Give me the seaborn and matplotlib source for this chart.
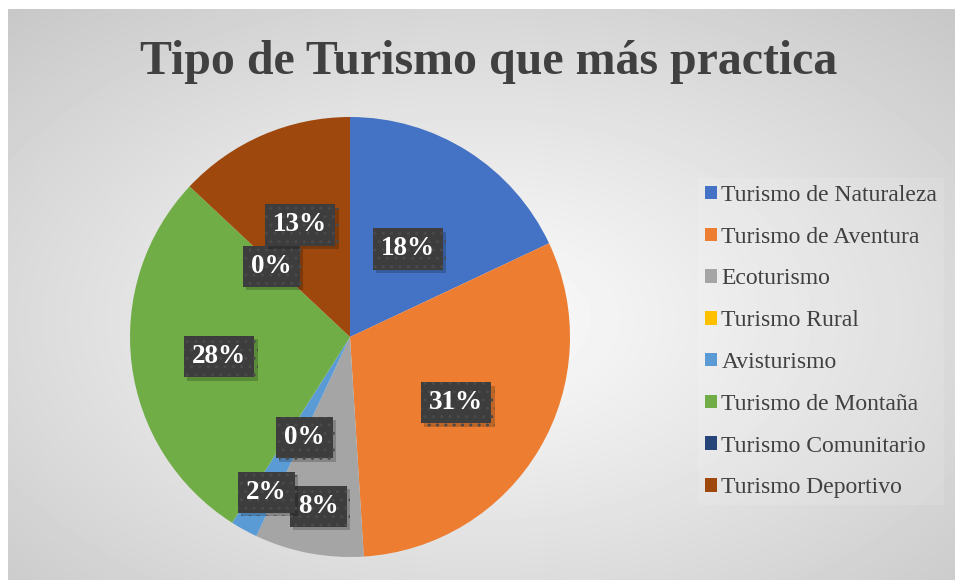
import numpy as np
import matplotlib
matplotlib.use("Agg")
import matplotlib.pyplot as plt
import matplotlib.patheffects as pe
import seaborn as sns

# data
categorias = ["Turismo de Naturaleza", "Turismo de Aventura", "Ecoturismo",
              "Turismo Rural", "Avisturismo", "Turismo de Montaña",
              "Turismo Comunitario", "Turismo Deportivo"]
porcentajes = [18, 31, 8, 0, 2, 28, 0, 13]
titulo = "Tipo de Turismo que más practica"

# style
colores = ["#4472C4", "#ED7D31", "#A5A5A5", "#FFC000",
           "#5B9BD5", "#70AD47", "#264478", "#9E480E"]
# radial distance of each data label (fraction of radius)
dist_etiqueta = [0.49, 0.56, 0.77, 0.49, 0.79, 0.60, 0.49, 0.57]

sns.set_theme(style="white")
plt.rcParams["font.family"] = ["Liberation Serif", "DejaVu Serif"]

W, H = 955, 580
fig = plt.figure(figsize=(W / 100, H / 100), dpi=100)
fig.patch.set_facecolor("white")

# gradient background of the chart area
bg = fig.add_axes([8 / W, 0, 1 - 8 / W, 1 - 9 / H])
yy, xx = np.mgrid[0:571, 0:947]
cx, cy = 470, 310
d = np.hypot((xx - cx) / 947, (yy - cy) / 571)
d = d / d.max()
val = 251 - 52 * d ** 1.1
bg.imshow(val, cmap="gray", vmin=0, vmax=255, aspect="auto", interpolation="bilinear")
bg.set_axis_off()

# pie
ax = fig.add_axes([130 / W, 23 / H, 440 / W, 440 / H])
wedges, _ = ax.pie(porcentajes, colors=colores, startangle=90, counterclock=False,
                   radius=1, wedgeprops=dict(linewidth=0))
ax.set_xlim(-1, 1)
ax.set_ylim(-1, 1)
ax.set_aspect("equal")
ax.set_axis_off()

for w, p, r in zip(wedges, porcentajes, dist_etiqueta):
    ang = np.deg2rad((w.theta1 + w.theta2) / 2)
    t = ax.annotate(f"{p}%", (r * np.cos(ang), r * np.sin(ang)),
                    xytext=(0, 0), textcoords="offset points", ha="center",
                    va="center_baseline", color="white", fontsize=19.5, fontweight="bold",
                    bbox=dict(boxstyle="square,pad=0.3", facecolor="#3d3d3d",
                              edgecolor="#4a4a4a", linewidth=0, hatch=".."))
    t.get_bbox_patch().set_path_effects([
        pe.SimplePatchShadow(offset=(2.5, -2.5), shadow_rgbFace="black", alpha=0.2),
        pe.Normal()])

fig.text(489 / W, 1 - 62 / H, titulo, ha="center", va="center", fontsize=34.5,
         fontweight="bold", color="#404040")

leg = fig.legend(wedges, categorias, loc="upper left",
                 bbox_to_anchor=(686 / W, 1 - 166 / H), frameon=True,
                 fontsize=17, labelcolor="#404040", handlelength=0.5,
                 handleheight=0.5, handletextpad=0.2, labelspacing=0.88,
                 borderpad=0.3, fancybox=False)
leg.get_frame().set_facecolor("white")
leg.get_frame().set_alpha(0.12)
leg.get_frame().set_linewidth(0)

fig.savefig("out.png", dpi=100)
